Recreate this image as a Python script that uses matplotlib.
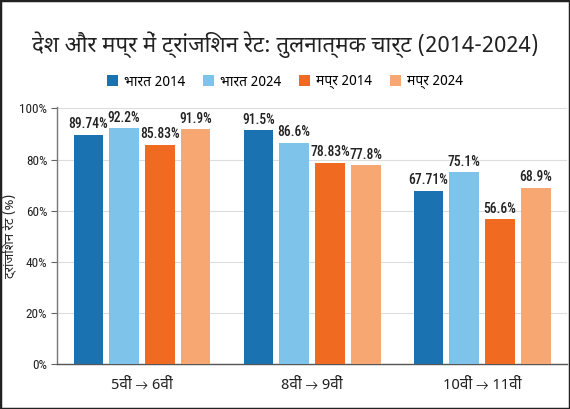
import matplotlib
matplotlib.use("Agg")
import matplotlib.pyplot as plt
from matplotlib import font_manager as fm
from matplotlib.patches import Rectangle
import numpy as np

# ---- data ----
categories = ["5वीं → 6वीं", "8वीं → 9वीं", "10वीं → 11वीं"]
series_names = ["भारत 2014", "भारत 2024", "मप्र 2014", "मप्र 2024"]
bharat_2014 = [89.74, 91.5, 67.71]
bharat_2024 = [92.2, 86.6, 75.1]
mp_2014 = [85.83, 78.83, 56.6]
mp_2024 = [91.9, 77.8, 68.9]
value_labels = [
    ["89.74%", "91.5%", "67.71%"],
    ["92.2%", "86.6%", "75.1%"],
    ["85.83%", "78.83%", "56.6%"],
    ["91.9%", "77.8%", "68.9%"],
]
yticks = [0, 20, 40, 60, 80, 100]
ytick_labels = ["0%", "20%", "40%", "60%", "80%", "100%"]
title = "देश और मप्र में ट्रांजिशन रेट: तुलनात्मक चार्ट (2014-2024)"
ylabel = "ट्रांजिशन रेट (%)"
colors = ["#1a72b0", "#7dc3ea", "#f06a22", "#f7a872"]

# ---- fonts: prefer a Devanagari-capable font if one exists ----
names = {f.name for f in fm.fontManager.ttflist}
families = []
for cand in ["Noto Sans Devanagari", "Noto Sans Devanagari UI", "Lohit Devanagari",
             "Mukta", "Hind", "Poppins", "Mangal", "FreeSans"]:
    if cand in names:
        families.append(cand)
for cand in ["Roboto", "DejaVu Sans"]:
    if cand in names:
        families.append(cand)
if "DejaVu Sans" not in families:
    families.append("DejaVu Sans")
plt.rcParams["font.family"] = families

num_family = [c for c in ["Roboto Condensed", "Liberation Sans Narrow", "Roboto", "DejaVu Sans"]
              if c in names] or ["DejaVu Sans"]

series = [bharat_2014, bharat_2024, mp_2014, mp_2024]

fig = plt.figure(figsize=(5.7, 4.09), dpi=100)
ax = fig.add_axes([0.1, 0.11, 0.895, 0.628])

x = np.arange(len(categories))
width = 0.175
step = 0.21
offsets = (np.arange(4) - 1.5) * step
for i, (vals, name, col) in enumerate(zip(series, series_names, colors)):
    bars = ax.bar(x + offsets[i], vals, width, color=col, label=name, zorder=3)
    for b, lab in zip(bars, value_labels[i]):
        ax.annotate(lab, (b.get_x() + b.get_width() / 2, b.get_height()),
                    xytext=(0, 2.5), textcoords="offset points",
                    ha="center", va="bottom", fontsize=9.8, color="#222222",
                    fontweight="medium", family=num_family)

ax.set_xlim(-0.5, 2.5)
ax.set_ylim(0, 100.5)
ax.set_xticks(x)
ax.set_xticklabels(categories, fontsize=11, color="#222222")
ax.set_yticks(yticks)
ax.set_yticklabels(ytick_labels, fontsize=9.5, color="#222222", family=num_family)
ax.tick_params(axis="x", length=0, pad=10)
ax.tick_params(axis="y", length=4, color="#666666", pad=3)
ax.yaxis.grid(True, color="#dddddd", linewidth=0.8, zorder=0)
for s in ["top", "right"]:
    ax.spines[s].set_visible(False)
ax.spines["left"].set_color("#777777")
ax.spines["bottom"].set_color("#555555")
ax.spines["left"].set_linewidth(1.0)
ax.spines["bottom"].set_linewidth(1.0)
ax.set_ylabel(ylabel, fontsize=9.5, fontweight="bold", color="#222222")
ax.yaxis.set_label_coords(-0.08, 0.5)

fig.text(0.5, 0.89, title, ha="center", va="center", fontsize=16,
         fontweight="bold", color="#222222")
handles, labels = ax.get_legend_handles_labels()
fig.legend(handles, labels, loc="center", bbox_to_anchor=(0.5, 0.8), ncol=4,
           frameon=False, fontsize=10, handlelength=0.8, handleheight=0.8,
           handletextpad=0.4, columnspacing=1.3)

fig.patches.append(Rectangle((0, 0), 1, 1, transform=fig.transFigure,
                             fill=False, edgecolor="#222222", linewidth=2.5))
fig.savefig("out.png", dpi=100)
